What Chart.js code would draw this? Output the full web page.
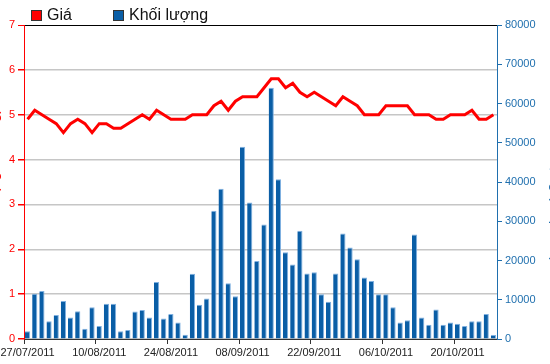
<!DOCTYPE html>
<html>
<head>
<meta charset="utf-8">
<script src="https://cdn.jsdelivr.net/npm/chart.js@4/dist/chart.umd.min.js"></script>
<style>
  html, body { margin: 0; padding: 0; background: #fff; overflow: hidden; }
  #wrap { position: relative; width: 550px; height: 364px; }
</style>
</head>
<body>
<div id="wrap"><canvas id="chart"></canvas></div>
<script>
const dates = [
  "27/07/2011", "28/07/2011", "29/07/2011",
  "01/08/2011", "02/08/2011", "03/08/2011", "04/08/2011", "05/08/2011",
  "08/08/2011", "09/08/2011", "10/08/2011", "11/08/2011", "12/08/2011",
  "15/08/2011", "16/08/2011", "17/08/2011", "18/08/2011", "19/08/2011",
  "22/08/2011", "23/08/2011", "24/08/2011", "25/08/2011", "26/08/2011",
  "29/08/2011", "30/08/2011", "31/08/2011", "01/09/2011",
  "05/09/2011", "06/09/2011", "07/09/2011", "08/09/2011", "09/09/2011",
  "12/09/2011", "13/09/2011", "14/09/2011", "15/09/2011", "16/09/2011",
  "19/09/2011", "20/09/2011", "21/09/2011", "22/09/2011", "23/09/2011",
  "26/09/2011", "27/09/2011", "28/09/2011", "29/09/2011", "30/09/2011",
  "03/10/2011", "04/10/2011", "05/10/2011", "06/10/2011", "07/10/2011",
  "10/10/2011", "11/10/2011", "12/10/2011", "13/10/2011", "14/10/2011",
  "17/10/2011", "18/10/2011", "19/10/2011", "20/10/2011", "21/10/2011",
  "24/10/2011", "25/10/2011", "26/10/2011", "27/10/2011"
];

// giá (trục trái)
const price = [
  4.9, 5.1, 5.0, 4.9, 4.8, 4.6, 4.8, 4.9, 4.8, 4.6,
  4.8, 4.8, 4.7, 4.7, 4.8, 4.9, 5.0, 4.9, 5.1, 5.0,
  4.9, 4.9, 4.9, 5.0, 5.0, 5.0, 5.2, 5.3, 5.1, 5.3,
  5.4, 5.4, 5.4, 5.6, 5.8, 5.8, 5.6, 5.7, 5.5, 5.4,
  5.5, 5.4, 5.3, 5.2, 5.4, 5.3, 5.2, 5.0, 5.0, 5.0,
  5.2, 5.2, 5.2, 5.2, 5.0, 5.0, 5.0, 4.9, 4.9, 5.0,
  5.0, 5.0, 5.1, 4.9, 4.9, 5.0
];

// khối lượng (trục phải)
const volume = [
  2000, 11500, 12200, 4500, 6100, 9700, 5500, 7100, 2600, 8100,
  3300, 9000, 9000, 2000, 2300, 7000, 7400, 5500, 14500, 5200,
  6400, 4200, 1100, 16600, 8700, 10300, 32700, 38300, 14200, 10900,
  49000, 34800, 19900, 29200, 64000, 40700, 22100, 19000, 27600, 16700,
  17000, 11400, 9500, 16700, 26900, 23300, 20300, 15700, 14800, 11400,
  11400, 8100, 4200, 4800, 26600, 5500, 3600, 7500, 3600, 4200,
  3900, 3300, 4500, 4500, 6400, 1000
];

const xTickLabels = ["27/07/2011", "10/08/2011", "24/08/2011", "08/09/2011", "22/09/2011", "06/10/2011", "20/10/2011"];
const seriesNames = ["Giá", "Khối lượng"];
const axisTitles = ["Giá (nghìn đồng)", "Khối lượng (cổ phiếu)"];

const RED = "#ff0000";
const BLUE = "#0a5ea6";
const AXIS_BLUE = "#1f6fae";
const FONT = "'Liberation Sans', Arial, sans-serif";

// chú thích + tiêu đề trục (bị cắt ở mép như ảnh gốc)
const extras = {
  id: "extras",
  afterDraw(chart) {
    const ctx = chart.ctx;
    ctx.save();
    ctx.font = "16px " + FONT;
    ctx.textBaseline = "middle";
    const items = [
      { x: 31, color: RED, text: seriesNames[0] },
      { x: 113, color: BLUE, text: seriesNames[1] }
    ];
    items.forEach(it => {
      ctx.fillStyle = it.color;
      ctx.fillRect(it.x, 10, 11, 11);
      ctx.strokeStyle = "#333";
      ctx.lineWidth = 1;
      ctx.strokeRect(it.x + 0.5, 10.5, 10, 10);
      ctx.fillStyle = "#111";
      ctx.fillText(it.text, it.x + 16, 16);
    });

    ctx.font = "15px " + FONT;
    ctx.textAlign = "center";
    ctx.save();
    ctx.translate(-6, 165);
    ctx.rotate(-Math.PI / 2);
    ctx.fillStyle = RED;
    ctx.fillText(axisTitles[0], 0, 0);
    ctx.restore();
    ctx.save();
    ctx.translate(556, 190);
    ctx.rotate(Math.PI / 2);
    ctx.fillStyle = AXIS_BLUE;
    ctx.fillText(axisTitles[1], 0, 0);
    ctx.restore();
    ctx.restore();
  }
};

new Chart(document.getElementById("chart"), {
  data: {
    labels: dates,
    datasets: [
      {
        type: "line",
        label: seriesNames[0],
        data: price,
        yAxisID: "y",
        borderColor: RED,
        borderWidth: 3,
        pointRadius: 0,
        tension: 0,
        order: 0
      },
      {
        type: "bar",
        label: seriesNames[1],
        data: volume,
        yAxisID: "y1",
        backgroundColor: BLUE,
        borderColor: "#7fb0e0",
        borderWidth: { top: 1, right: 1, left: 0, bottom: 0 },
        borderSkipped: "bottom",
        categoryPercentage: 1,
        barPercentage: 0.72,
        order: 1
      }
    ]
  },
  options: {
    responsive: true,
    maintainAspectRatio: false,
    animation: false,
    layout: { padding: { top: 25, left: 0, right: 0, bottom: 0 } },
    plugins: {
      legend: { display: false },
      tooltip: { enabled: false }
    },
    scales: {
      x: {
        offset: true,
        grid: {
          drawOnChartArea: false,
          drawTicks: true,
          tickLength: 5,
          color: c => (xTickLabels.includes(dates[c.index]) ? "#333" : "rgba(0,0,0,0)")
        },
        border: { color: "#333", width: 1 },
        ticks: {
          autoSkip: false,
          maxRotation: 0,
          padding: 2,
          color: "#222",
          font: { size: 11, family: FONT },
          callback: function (v, i) {
            const d = dates[i];
            return xTickLabels.includes(d) ? d : "";
          }
        },
        afterFit: s => { s.height = 25; s.paddingLeft = 0; s.paddingRight = 0; }
      },
      y: {
        position: "left",
        min: 0,
        max: 7,
        ticks: {
          stepSize: 1,
          padding: 3,
          color: RED,
          font: { size: 11, family: FONT }
        },
        grid: {
          color: c => (c.tick && c.tick.value === 7 ? "#000" : "#c6c6c6"),
          lineWidth: c => (c.tick && c.tick.value === 7 ? 1 : 1.5),
          tickColor: RED,
          tickLength: 6
        },
        border: { color: RED, width: 1 },
        afterFit: s => { s.width = 24; }
      },
      y1: {
        position: "right",
        min: 0,
        max: 80000,
        ticks: {
          stepSize: 10000,
          padding: 3,
          color: AXIS_BLUE,
          font: { size: 11, family: FONT },
          callback: v => String(v)
        },
        grid: {
          drawOnChartArea: false,
          tickColor: AXIS_BLUE,
          tickLength: 5
        },
        border: { color: AXIS_BLUE, width: 1 },
        afterFit: s => { s.width = 53; }
      }
    }
  },
  plugins: [extras]
});
</script>
</body>
</html>
